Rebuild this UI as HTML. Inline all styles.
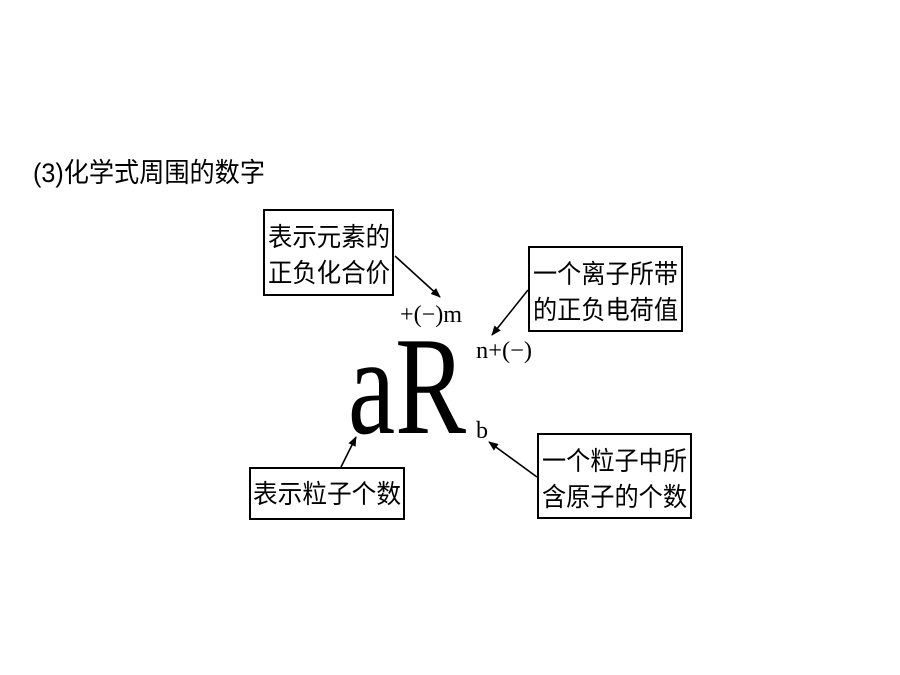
<!DOCTYPE html>
<html><head><meta charset="utf-8"><style>
body{margin:0;background:#fff;}
svg{display:block}
.cjk{font-family:"Liberation Sans","Noto Sans CJK SC",sans-serif;}
.ser{font-family:"Liberation Serif",serif;}
</style></head><body>
<svg width="900" height="675" viewBox="0 0 900 675" xmlns="http://www.w3.org/2000/svg">
<defs><marker id="ah" markerWidth="10" markerHeight="8" refX="9" refY="4" orient="auto" markerUnits="userSpaceOnUse"><path d="M0,0 L10,4 L0,8 z" fill="#000"/></marker></defs>
<text x="33" y="182" class="cjk" font-size="27" textLength="232" lengthAdjust="spacingAndGlyphs">(3)化学式周围的数字</text>
<g fill="none" stroke="#000" stroke-width="2">
<rect x="264" y="210" width="129" height="85"/>
<rect x="529" y="247" width="153" height="84"/>
<rect x="250" y="468" width="154" height="51"/>
<rect x="538" y="434" width="153" height="84"/>
</g>
<g class="cjk" font-size="26">
<text x="268" y="246" textLength="122" lengthAdjust="spacingAndGlyphs">表示元素的</text>
<text x="268" y="282" textLength="122" lengthAdjust="spacingAndGlyphs">正负化合价</text>
<text x="533" y="283" textLength="145" lengthAdjust="spacingAndGlyphs">一个离子所带</text>
<text x="533" y="319" textLength="145" lengthAdjust="spacingAndGlyphs">的正负电荷值</text>
<text x="253" y="503" textLength="148" lengthAdjust="spacingAndGlyphs">表示粒子个数</text>
<text x="542" y="470" textLength="145" lengthAdjust="spacingAndGlyphs">一个粒子中所</text>
<text x="542" y="506" textLength="145" lengthAdjust="spacingAndGlyphs">含原子的个数</text>
</g>
<g stroke="#000" stroke-width="1.6" marker-end="url(#ah)">
<line x1="395" y1="256" x2="440" y2="297"/>
<line x1="528" y1="290" x2="492" y2="335"/>
<line x1="341" y1="467" x2="356" y2="437"/>
<line x1="537" y1="477" x2="489" y2="442"/>
</g>
<text x="348" y="433" class="ser" font-size="140" textLength="118" lengthAdjust="spacingAndGlyphs">aR</text>
<text x="400" y="322" class="ser" font-size="24" textLength="62" lengthAdjust="spacingAndGlyphs">+(−)m</text>
<text x="476" y="358" class="ser" font-size="24" textLength="56" lengthAdjust="spacingAndGlyphs">n+(−)</text>
<text x="476" y="438" class="ser" font-size="24">b</text>
</svg>
</body></html>
